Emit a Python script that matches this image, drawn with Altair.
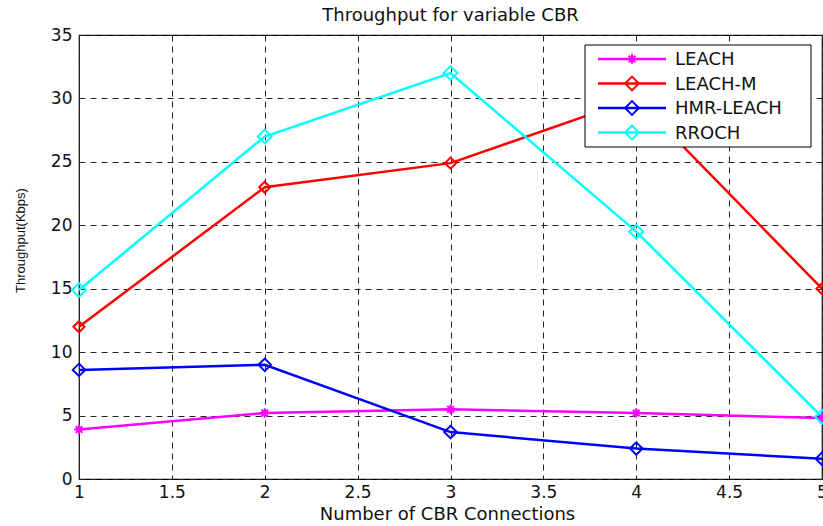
import altair as alt
import pandas as pd

# Throughput (Kbps) per number of CBR connections for each protocol
connections = [1, 2, 3, 4, 5]
series_names = ["LEACH", "LEACH-M", "HMR-LEACH", "RROCH"]
leach = [3.9, 5.2, 5.5, 5.2, 4.8]
leach_m = [12.0, 23.0, 24.9, 30.0, 15.0]
hmr_leach = [8.6, 9.0, 3.7, 2.4, 1.6]
rroch = [14.9, 27.0, 32.0, 19.5, 4.9]
colors = ["#ff00ff", "#ff0000", "#0000ff", "#00ffff"]

x_ticks = [1, 1.5, 2, 2.5, 3, 3.5, 4, 4.5, 5]
y_ticks = [0, 5, 10, 15, 20, 25, 30, 35]

FONT = "DejaVu Sans"
ASTERISK = "M-1,0L1,0M0,-1L0,1M-0.7,-0.7L0.7,0.7M-0.7,0.7L0.7,-0.7"
shapes = [ASTERISK, "diamond", "diamond", "diamond"]
sizes = [90, 190, 190, 190]

rows = []
for name, vals in zip(series_names, [leach, leach_m, hmr_leach, rroch]):
    for c, v in zip(connections, vals):
        rows.append({"series": name, "connections": c, "throughput": v})
df = pd.DataFrame(rows)

x_enc = alt.X(
    "connections:Q",
    scale=alt.Scale(domain=[1, 5], nice=False, zero=False),
    axis=alt.Axis(
        values=x_ticks, format="~g", title="Number of CBR Connections",
        grid=True, gridDash=[6, 5], gridColor="#222", gridWidth=1,
        ticks=False, domain=False, labelFlush=False, labelOverlap=False,
        labelFont=FONT, labelFontSize=17, labelColor="#111", labelPadding=5,
        titleFont=FONT, titleFontSize=18, titleFontWeight="normal",
        titleColor="#111", titleX=368, titleY=35, titleBaseline="middle",
    ),
)
y_enc = alt.Y(
    "throughput:Q",
    scale=alt.Scale(domain=[0, 35], nice=False),
    axis=alt.Axis(
        values=y_ticks, format="~g", title="Throughput(Kbps)",
        grid=True, gridDash=[6, 5], gridColor="#222", gridWidth=1,
        ticks=False, domain=False, labelOverlap=False,
        labelFont=FONT, labelFontSize=17, labelColor="#111", labelPadding=7,
        titleFont="Liberation Sans", titleFontSize=13, titleFontWeight="normal",
        titleColor="#111", titleX=-59, titleY=205, titleBaseline="middle",
    ),
)
color_enc = alt.Color(
    "series:N", scale=alt.Scale(domain=series_names, range=colors), legend=None
)

lines = alt.Chart(df).mark_line(strokeWidth=2.5).encode(
    x=x_enc, y=y_enc, color=color_enc
)
points = alt.Chart(df).mark_point(filled=False, strokeWidth=2, opacity=1).encode(
    x=x_enc,
    y=y_enc,
    color=color_enc,
    shape=alt.Shape("series:N", scale=alt.Scale(domain=series_names, range=shapes), legend=None),
    size=alt.Size("series:N", scale=alt.Scale(domain=series_names, range=sizes), legend=None),
)

# Legend box in the upper right corner of the plot area
legend_layers = [
    alt.Chart(alt.Data(values=[{"k": 0}])).mark_rect(
        fill="white", stroke="black", strokeWidth=1
    ).encode(x=alt.value(506), x2=alt.value(732), y=alt.value(10), y2=alt.value(112))
]
for i, (name, col, shp, sz) in enumerate(zip(series_names, colors, shapes, sizes)):
    row_y = 24 + 24.5 * i
    src = alt.Data(values=[{"series": name}])
    legend_layers.append(
        alt.Chart(src).mark_rule(color=col, strokeWidth=2.5).encode(
            x=alt.value(519), x2=alt.value(587), y=alt.value(row_y)
        )
    )
    legend_layers.append(
        alt.Chart(src).mark_point(
            filled=False, strokeWidth=2, opacity=1, color=col, shape=shp, size=sz
        ).encode(x=alt.value(553), y=alt.value(row_y))
    )
    legend_layers.append(
        alt.Chart(src).mark_text(
            align="left", baseline="middle", font=FONT, fontSize=18, color="#111"
        ).encode(x=alt.value(596), y=alt.value(row_y + 1), text="series:N")
    )

chart = alt.layer(lines, points, *legend_layers).properties(
    width=743,
    height=444,
    title=alt.Title(
        "Throughput for variable CBR", font=FONT, fontSize=18,
        fontWeight="normal", color="#111", anchor="middle", offset=1,
    ),
    autosize=alt.AutoSizeParams(type="none"),
    padding={"left": 79, "top": 35, "right": 1, "bottom": 47},
    background="white",
).configure_view(stroke="black", strokeWidth=1.2)

chart.save("out.html", embed_options={"renderer": "svg", "actions": False})
